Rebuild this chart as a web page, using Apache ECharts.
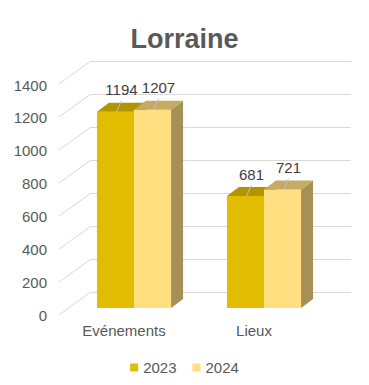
<!DOCTYPE html>
<html><head><meta charset="utf-8">
<script src="https://cdn.jsdelivr.net/npm/echarts@6/dist/echarts.min.js"></script>
<style>html,body{margin:0;padding:0;background:#fff}#c{width:369px;height:385px}</style>
</head><body><div id="c"></div>
<script>
const categories = ['Evénements', 'Lieux'];
const seriesNames = ['2023', '2024'];
const values2023 = [1194, 681];
const values2024 = [1207, 721];
const yTicks = [0, 200, 400, 600, 800, 1000, 1200, 1400];

const FONT = '"Liberation Sans", Arial, sans-serif';
const palette = [
  {front: '#e2bc00', top: '#b09400', side: '#9c8400'},
  {front: '#ffdf80', top: '#c4ab64', side: '#a69055'}
];

function barRender(s) {
  const colors = palette[s];
  return function (params, api) {
    const ci = api.value(0), v = api.value(1);
    const top = api.coord([ci, v]);
    const base = api.coord([ci, 0]);
    const band = api.size([1, 0])[0];
    const w = band * 0.285;
    const x0 = top[0] - w + s * w, x1 = x0 + w;
    const yt = top[1], yb = base[1];
    const dx = 12, dy = -9;
    const cx = (x0 + x1) / 2;
    return {
      type: 'group', children: [
        {type: 'polygon', shape: {points: [[x1, yt], [x1 + dx, yt + dy], [x1 + dx, yb + dy], [x1, yb]]}, style: {fill: colors.side}},
        {type: 'rect', shape: {x: x0, y: yt, width: w, height: yb - yt}, style: {fill: colors.front}},
        {type: 'polygon', shape: {points: [[x0, yt], [x1, yt], [x1 + dx, yt + dy], [x0 + dx, yt + dy]]}, style: {fill: colors.top}},
        {type: 'line', shape: {x1: cx + 1, y1: yt, x2: cx + 6, y2: yt - 11}, style: {stroke: '#bfbfbf', lineWidth: 1}},
        {type: 'text', x: cx + 6, y: yt - 22, style: {text: String(v), fill: '#404040', font: '15px ' + FONT, align: 'center', verticalAlign: 'middle'}}
      ]
    };
  };
}

const chart = echarts.init(document.getElementById('c'), null, {renderer: 'svg'});
chart.setOption({
  animation: false,
  backgroundColor: '#fff',
  title: {
    text: 'Lorraine', left: 'center', top: 20,
    textStyle: {fontFamily: FONT, fontSize: 27, fontWeight: 'bold', color: '#595959'}
  },
  legend: {
    top: 355, left: 'center', itemWidth: 8, itemHeight: 8, itemGap: 16,
    textStyle: {fontFamily: FONT, fontSize: 15, color: '#595959'},
    data: [
      {name: seriesNames[0], icon: 'rect', itemStyle: {color: palette[0].front}},
      {name: seriesNames[1], icon: 'rect', itemStyle: {color: palette[1].front}}
    ]
  },
  grid: [
    {left: 91, top: 61, width: 260, height: 231},   // back wall
    {left: 59, top: 85, width: 260, height: 230},   // front plane (labels)
    {left: 69, top: 78, width: 260, height: 230}    // bar plane
  ],
  xAxis: [
    {gridIndex: 0, type: 'value', min: 0, max: 1, show: false},
    {gridIndex: 1, type: 'category', data: categories,
      axisLine: {show: false}, axisTick: {show: false},
      axisLabel: {margin: 8, fontFamily: FONT, fontSize: 15, color: '#595959'}},
    {gridIndex: 2, type: 'category', data: categories, show: false}
  ],
  yAxis: [
    {gridIndex: 0, type: 'value', min: 0, max: 1400, interval: 200,
      axisLine: {show: false}, axisTick: {show: false}, axisLabel: {show: false},
      splitLine: {lineStyle: {color: '#d9d9d9', width: 1}}},
    {gridIndex: 1, type: 'value', min: 0, max: 1400, interval: 200,
      axisLine: {show: false}, axisTick: {show: false}, splitLine: {show: false},
      axisLabel: {margin: 12, fontFamily: FONT, fontSize: 15, color: '#595959', formatter: v => String(v)}},
    {gridIndex: 2, type: 'value', min: 0, max: 1400, show: false}
  ],
  series: [
    {
      type: 'custom', name: 'diag', xAxisIndex: 0, yAxisIndex: 0, silent: true,
      data: yTicks.map(v => [0, v]),
      renderItem: function (params, api) {
        const p = api.coord([api.value(0), api.value(1)]);
        return {type: 'line', shape: {x1: p[0], y1: p[1], x2: p[0] - 32, y2: p[1] + 23},
          style: {stroke: '#d9d9d9', lineWidth: 1}};
      }
    },
    {
      type: 'custom', name: seriesNames[0], xAxisIndex: 2, yAxisIndex: 2,
      itemStyle: {color: palette[0].front},
      data: values2023.map((v, i) => [i, v]),
      renderItem: barRender(0)
    },
    {
      type: 'custom', name: seriesNames[1], xAxisIndex: 2, yAxisIndex: 2,
      itemStyle: {color: palette[1].front},
      data: values2024.map((v, i) => [i, v]),
      renderItem: barRender(1)
    }
  ]
});
</script>
</body></html>
